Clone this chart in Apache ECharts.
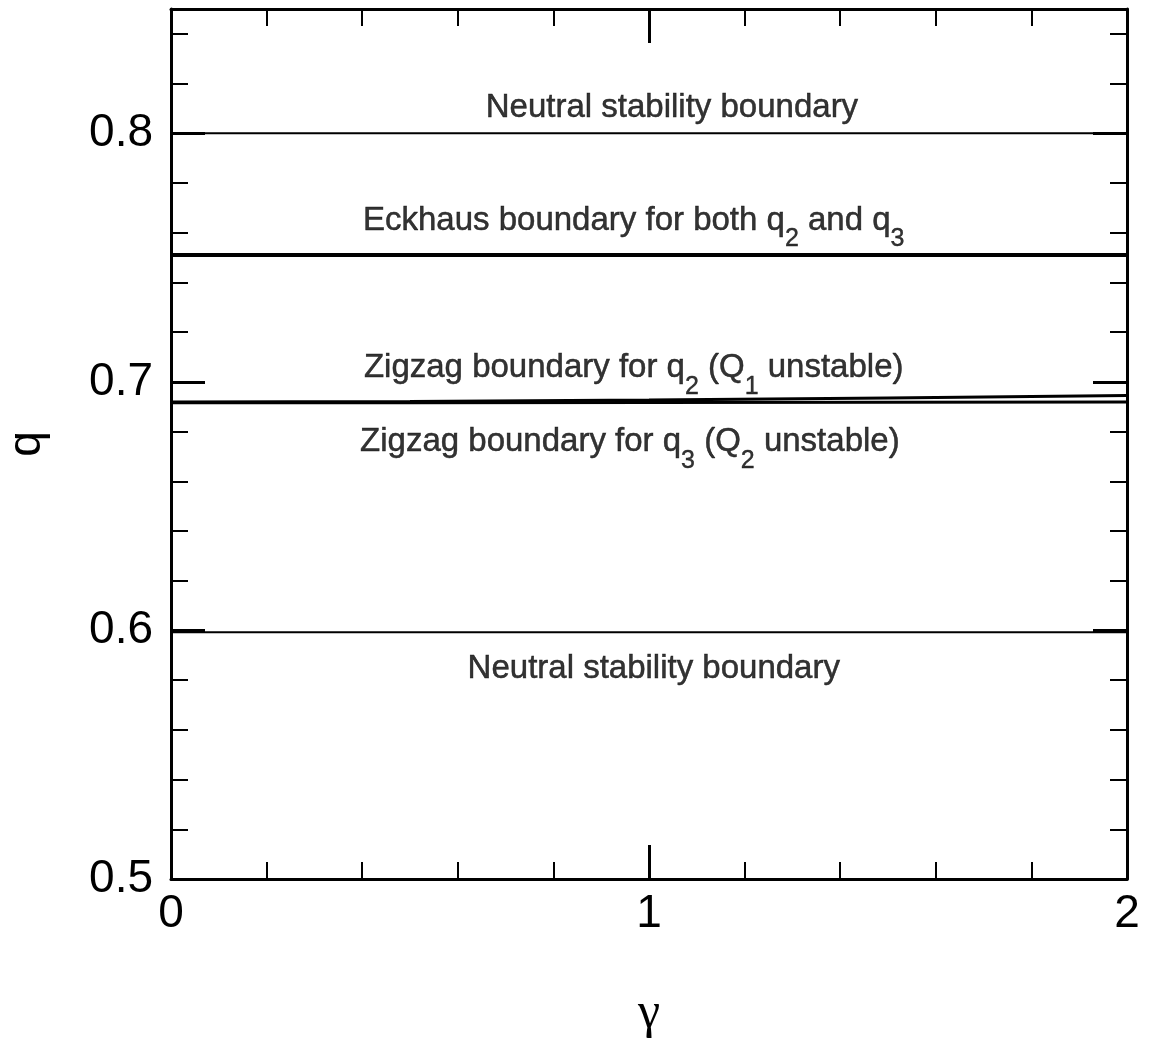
<!DOCTYPE html>
<html>
<head>
<meta charset="utf-8">
<script src="https://cdn.jsdelivr.net/npm/echarts@6/dist/echarts.min.js"></script>
<style>
    html, body {margin: 0; padding: 0; background: #fff;}
    #chart {width: 1150px; height: 1038px;}
</style>
</head>
<body>
<div id="chart"></div>
<script>
// gamma samples along each boundary curve
const gammaVals = [0, 0.5, 1, 1.5, 2];
const neutralUpper = [0.8, 0.8, 0.8, 0.8, 0.8];
const eckhausQ2 = [0.7512, 0.7512, 0.7512, 0.7512, 0.7512];
const eckhausQ3 = [0.7508, 0.7508, 0.7508, 0.7508, 0.7508];
const zigzagQ2 = [0.6919, 0.6921, 0.6927, 0.6935, 0.6945];
const zigzagQ3 = [0.6916, 0.6916, 0.6917, 0.6918, 0.6919];
const neutralLower = [0.5993, 0.5993, 0.5993, 0.5993, 0.5993];

// text annotations (centre position in data units)
const annoGamma = [1.048, 0.968, 0.968, 0.960, 1.010];
const annoQ = [0.8102, 0.7649, 0.7055, 0.6759, 0.5844];
const annoText = [
    'Neutral stability boundary',
    'Eckhaus boundary for both q{s|2} and q{s|3}',
    'Zigzag boundary for q{s|2} (Q{s|1} unstable)',
    'Zigzag boundary for q{s|3} (Q{s|2} unstable)',
    'Neutral stability boundary'
];

const FONT = 'Liberation Sans';

function pairs(ys) {
    return gammaVals.map((g, i) => [g, ys[i]]);
}

function curve(ys, width) {
    return {
        type: 'line',
        data: pairs(ys),
        showSymbol: false,
        silent: true,
        lineStyle: {color: '#000', width: width},
        z: 3
    };
}

function isMajorQ(v) {
    return Math.abs(v * 10 - Math.round(v * 10)) < 1e-6;
}

const chart = echarts.init(document.getElementById('chart'));

const frameLine = {show: true, onZero: false, lineStyle: {color: '#000', width: 3}};
const noLine = {show: false, onZero: false};

chart.setOption({
    animation: false,
    backgroundColor: '#fff',
    grid: {left: 171, right: 23, top: 9, bottom: 159, outerBoundsMode: 'none'},
    xAxis: [
        {
            type: 'value', min: 0, max: 2, interval: 1, position: 'bottom',
            axisLine: frameLine,
            axisTick: {inside: true, length: 34, lineStyle: {color: '#000', width: 3}},
            axisLabel: {fontSize: 46, fontFamily: FONT, color: '#000', margin: 12},
            splitLine: {show: false},
            name: 'γ', nameLocation: 'middle', nameGap: 110,
            nameTextStyle: {fontSize: 50, fontFamily: 'Liberation Serif', color: '#000'}
        },
        {
            type: 'value', min: 0, max: 2, interval: 0.2, position: 'bottom',
            axisLine: noLine,
            axisTick: {inside: true, length: 17, lineStyle: {color: '#000', width: 2}},
            axisLabel: {show: false}, splitLine: {show: false}
        },
        {
            type: 'value', min: 0, max: 2, interval: 1, position: 'top',
            axisLine: frameLine,
            axisTick: {inside: true, length: 34, lineStyle: {color: '#000', width: 3}},
            axisLabel: {show: false}, splitLine: {show: false}
        },
        {
            type: 'value', min: 0, max: 2, interval: 0.2, position: 'top',
            axisLine: noLine,
            axisTick: {inside: true, length: 17, lineStyle: {color: '#000', width: 2}},
            axisLabel: {show: false}, splitLine: {show: false}
        }
    ],
    yAxis: [
        {
            type: 'value', min: 0.5, max: 0.85, interval: 0.1, position: 'left',
            axisLine: frameLine,
            axisTick: {inside: true, length: 34, lineStyle: {color: '#000', width: 3}},
            axisLabel: {
                fontSize: 46, fontFamily: FONT, color: '#000', margin: 18,
                formatter: v => isMajorQ(v) ? v.toFixed(1) : ''
            },
            splitLine: {show: false},
            name: 'q', nameLocation: 'middle', nameGap: 121, nameRotate: 90,
            nameTextStyle: {fontSize: 46, fontFamily: FONT, color: '#000'}
        },
        {
            type: 'value', min: 0.5, max: 0.85, interval: 0.02, position: 'left',
            axisLine: noLine,
            axisTick: {inside: true, length: 17, lineStyle: {color: '#000', width: 2}},
            axisLabel: {show: false}, splitLine: {show: false}
        },
        {
            type: 'value', min: 0.5, max: 0.85, interval: 0.1, position: 'right',
            axisLine: frameLine,
            axisTick: {inside: true, length: 34, lineStyle: {color: '#000', width: 3}},
            axisLabel: {show: false}, splitLine: {show: false}
        },
        {
            type: 'value', min: 0.5, max: 0.85, interval: 0.02, position: 'right',
            axisLine: noLine,
            axisTick: {inside: true, length: 17, lineStyle: {color: '#000', width: 2}},
            axisLabel: {show: false}, splitLine: {show: false}
        }
    ],
    series: [
        curve(neutralUpper, 2),
        curve(eckhausQ2, 3),
        curve(eckhausQ3, 3),
        curve(zigzagQ2, 3),
        curve(zigzagQ3, 3),
        curve(neutralLower, 2),
        {
            type: 'scatter',
            symbolSize: 0,
            silent: true,
            data: annoGamma.map((g, i) => ({value: [g, annoQ[i]], text: annoText[i]})),
            label: {
                show: true,
                position: 'inside',
                color: '#000',
                textBorderColor: '#000',
                textBorderWidth: 0.5,
                fontFamily: FONT,
                fontSize: 33,
                lineHeight: 46,
                formatter: p => p.data.text,
                rich: {
                    s: {
                        fontSize: 25, fontFamily: FONT, color: '#000',
                        textBorderColor: '#000', textBorderWidth: 0.4,
                        lineHeight: 8, padding: [38, 0, 0, 0]
                    }
                }
            },
            z: 4
        }
    ]
});
</script>
</body>
</html>
